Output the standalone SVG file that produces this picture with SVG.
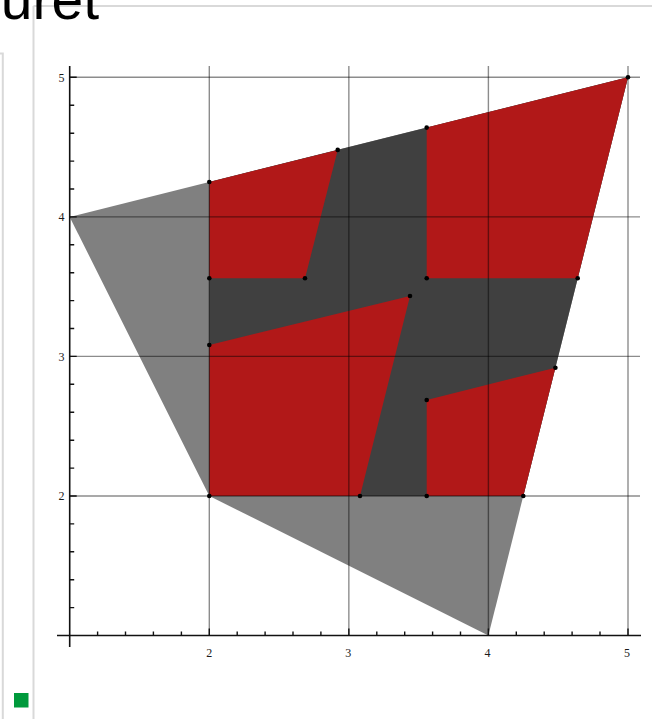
<svg xmlns="http://www.w3.org/2000/svg" width="652" height="719" viewBox="0 0 652 719">
<style>
.frame{stroke:#d9d9d9;stroke-width:2;fill:none}
.grid{stroke:#000;stroke-opacity:0.45;stroke-width:1.4}
.axis{stroke:#111;stroke-width:1.6}
.tick{stroke:#111;stroke-width:1.4}
.red{fill:#b11818}
.lbl{font-family:"Liberation Serif",serif;font-size:12px;fill:#1a1a1a}
.dot{fill:#000}
</style>
<rect width="652" height="719" fill="#fff"/>
<g id="frame">
<line class="frame" x1="33.5" y1="6" x2="652" y2="6"/>
<line class="frame" x1="33.5" y1="6" x2="33.5" y2="719"/>
<polyline class="frame" points="0,53.5 2.8,53.5 2.8,719"/>
<rect x="14" y="693" width="14.5" height="14.5" fill="#009a3c"/>
<text x="99" y="19" text-anchor="end" font-family="Liberation Sans, Arial, sans-serif" font-size="57" fill="#000">uret</text>
</g>
<g id="regions">
<polygon fill="#808080" points="69.7,216.9 628,77.3 488.4,635.5 209.3,496"/>
<polygon fill="#404040" points="209.3,496 209.3,182 628,77.3 523.3,496"/>
<polygon class="red" points="209.3,182 337.7,149.9 305,278.3 209.3,278.3"/>
<polygon class="red" points="426.7,127.6 628,77.3 577.7,278.3 426.7,278.3"/>
<polygon class="red" points="209.3,345 410,296 360,496 209.3,496"/>
<polygon class="red" points="426.7,400 555.4,367.7 523.3,496 426.7,496"/>
</g>
<g id="grid">
<line class="grid" x1="209.3" y1="66" x2="209.3" y2="635.5"/>
<line class="grid" x1="348.85" y1="66" x2="348.85" y2="635.5"/>
<line class="grid" x1="488.4" y1="66" x2="488.4" y2="635.5"/>
<line class="grid" x1="628" y1="66" x2="628" y2="635.5"/>
<line class="grid" x1="69.7" y1="77.3" x2="640" y2="77.3"/>
<line class="grid" x1="69.7" y1="216.9" x2="640" y2="216.9"/>
<line class="grid" x1="69.7" y1="356.4" x2="640" y2="356.4"/>
<line class="grid" x1="69.7" y1="496" x2="640" y2="496"/>
</g>
<g id="axes">
<line class="axis" x1="69.7" y1="66" x2="69.7" y2="647"/>
<line class="axis" x1="57" y1="635.5" x2="641" y2="635.5"/>
<path class="tick" d="M97.6,635.5v-4M125.5,635.5v-4M153.4,635.5v-4M181.4,635.5v-4M209.3,635.5v-7M237.2,635.5v-4M265.1,635.5v-4M293,635.5v-4M320.9,635.5v-4M348.85,635.5v-7M376.8,635.5v-4M404.7,635.5v-4M432.6,635.5v-4M460.5,635.5v-4M488.4,635.5v-7M516.3,635.5v-4M544.2,635.5v-4M572.1,635.5v-4M600,635.5v-4M628,635.5v-7"/>
<path class="tick" d="M69.7,607.6h4.5M69.7,579.7h4.5M69.7,551.8h4.5M69.7,523.9h4.5M69.7,496h7M69.7,468.1h4.5M69.7,440.2h4.5M69.7,412.3h4.5M69.7,384.3h4.5M69.7,356.4h7M69.7,328.5h4.5M69.7,300.6h4.5M69.7,272.7h4.5M69.7,244.8h4.5M69.7,216.9h7M69.7,189h4.5M69.7,161.1h4.5M69.7,133.2h4.5M69.7,105.2h4.5M69.7,77.3h7"/>
<text class="lbl" x="209.3" y="656.5" text-anchor="middle">2</text>
<text class="lbl" x="348.3" y="656.5" text-anchor="middle">3</text>
<text class="lbl" x="487.6" y="656.5" text-anchor="middle">4</text>
<text class="lbl" x="627" y="656.5" text-anchor="middle">5</text>
<text class="lbl" x="64.5" y="81.5" text-anchor="end">5</text>
<text class="lbl" x="64.5" y="221" text-anchor="end">4</text>
<text class="lbl" x="64.5" y="360.6" text-anchor="end">3</text>
<text class="lbl" x="64.5" y="500.2" text-anchor="end">2</text>
</g>
<g id="vertices" class="dot">
<circle cx="209.3" cy="182" r="2.3"/>
<circle cx="337.7" cy="149.9" r="2.3"/>
<circle cx="305" cy="278.3" r="2.3"/>
<circle cx="209.3" cy="278.3" r="2.3"/>
<circle cx="426.7" cy="127.6" r="2.3"/>
<circle cx="628" cy="77.3" r="2.3"/>
<circle cx="577.7" cy="278.3" r="2.3"/>
<circle cx="426.7" cy="278.3" r="2.3"/>
<circle cx="209.3" cy="345" r="2.3"/>
<circle cx="410" cy="296" r="2.3"/>
<circle cx="360" cy="496" r="2.3"/>
<circle cx="209.3" cy="496" r="2.3"/>
<circle cx="426.7" cy="400" r="2.3"/>
<circle cx="555.4" cy="367.7" r="2.3"/>
<circle cx="523.3" cy="496" r="2.3"/>
<circle cx="426.7" cy="496" r="2.3"/>
</g>
</svg>
